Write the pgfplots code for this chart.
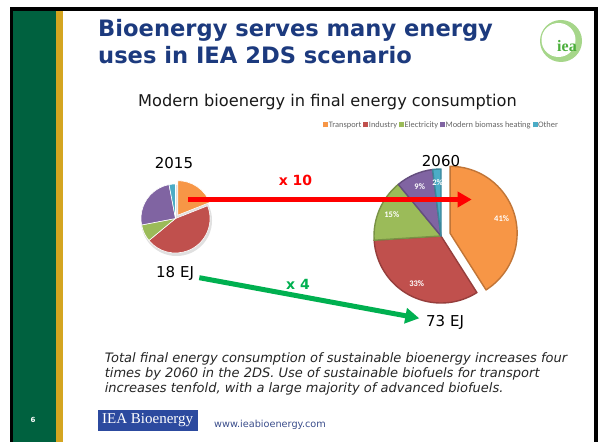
\documentclass[border=0pt]{standalone}
\usepackage{pgfplots}
\pgfplotsset{compat=1.18}
\usepackage{pgfplotstable}
\usepackage{fontspec}
\setmainfont{DejaVu Sans}
\newfontfamily\calibri{Carlito}
\newfontfamily\timesf{Liberation Serif}
\usetikzlibrary{arrows.meta}

\definecolor{cTransport}{HTML}{F79646}
\definecolor{cIndustry}{HTML}{C0504D}
\definecolor{cElectricity}{HTML}{9BBB59}
\definecolor{cHeating}{HTML}{8064A2}
\definecolor{cOther}{HTML}{4BACC6}
\definecolor{bargreen}{HTML}{00613F}
\definecolor{bargold}{HTML}{D4A520}
\definecolor{titleblue}{HTML}{1C3A7E}
\definecolor{ieablue}{HTML}{2C4A9F}
\definecolor{urlblue}{HTML}{3B4E8C}
\definecolor{logoring}{HTML}{A6D68A}
\definecolor{logotext}{HTML}{4CAF3C}
\definecolor{arrowgreen}{HTML}{00B050}

% shares in %, clockwise from 12 o'clock; explode in px
\pgfplotstableread{
share col          explode
19    cTransport   4
45    cIndustry    0
8     cElectricity 0
25    cHeating     0
3     cOther       0
}\pieA
\pgfplotstableread{
share col          explode
41    cTransport   9.5
33    cIndustry    0
15    cElectricity 0
9     cHeating     0
2     cOther       0
}\pieB

\newcommand\legsq[1]{\textcolor{#1}{\rule{5bp}{5bp}}\hspace{0.6bp}}

% #1 table, #2 cx, #3 cy, #4 radius, #5 border style, #6 labels (1/0)
\newcommand{\drawpie}[6]{%
  \pgfplotstablegetrowsof{#1}%
  \pgfmathtruncatemacro\lastrow{\pgfplotsretval-1}%
  \xdef\startang{90}%
  \foreach \i in {0,...,\lastrow}{%
    \pgfplotstablegetelem{\i}{share}\of{#1}\let\sh\pgfplotsretval
    \pgfplotstablegetelem{\i}{col}\of{#1}\let\cc\pgfplotsretval
    \pgfplotstablegetelem{\i}{explode}\of{#1}\let\ex\pgfplotsretval
    \pgfmathsetmacro\endang{\startang-3.6*\sh}%
    \pgfmathsetmacro\midang{(\startang+\endang)/2}%
    \pgfmathsetlengthmacro\exlen{\ex*1bp}%
    \pgfmathsetlengthmacro\rlen{#4*1bp}%
    \pgfmathsetlengthmacro\lablen{0.8*#4*1bp}%
    \fill[\cc, #5] (axis cs:#2,#3) ++(\midang:\exlen) coordinate (pc)
      -- ++(\startang:\rlen) arc[start angle=\startang, end angle=\endang, radius=\rlen] -- cycle;
    \ifnum#6=1
      \path (pc) ++(\midang:\lablen) node[text=white, inner sep=0,
        font=\calibri\bfseries\fontsize{8.5bp}{9bp}\selectfont] {\sh\%};
    \fi
    \xdef\startang{\endang}%
  }%
}

\begin{document}
\begin{tikzpicture}
\begin{axis}[
  x=1bp, y=1bp, y dir=reverse,
  xmin=0, xmax=601, ymin=0, ymax=442,
  hide axis, clip=false,
]
% slide background
\fill[white] (axis cs:0,0) rectangle (axis cs:601,442);
\fill[black] (axis cs:10,7) rectangle (axis cs:598,442);
\fill[white] (axis cs:13,11) rectangle (axis cs:594,442);
\fill[bargreen] (axis cs:13,11) rectangle (axis cs:56,442);
\fill[bargold] (axis cs:56,11) rectangle (axis cs:63,442);

% title
\node[anchor=base west, inner sep=0, text=titleblue, font=\bfseries\fontsize{22.6bp}{26bp}\selectfont]
  at (axis cs:98,37) {Bioenergy serves many energy};
\node[anchor=base west, inner sep=0, text=titleblue, font=\bfseries\fontsize{22.6bp}{26bp}\selectfont]
  at (axis cs:98,63.5) {uses in IEA 2DS scenario};

% iea logo
\fill[logoring] (axis cs:561,41) circle[radius=21bp];
\fill[white] (axis cs:558.5,40) circle[radius=17bp];
\node[text=logotext, inner sep=0, font=\timesf\bfseries\fontsize{16bp}{17bp}\selectfont]
  at (axis cs:567,46) {iea};

% chart title and legend
\node[anchor=base, inner sep=0, text=black!90, font=\fontsize{16.2bp}{18bp}\selectfont]
  at (axis cs:327.5,106.7) {Modern bioenergy in final energy consumption};
\node[anchor=base west, inner sep=0, text=black!60, font=\calibri\fontsize{8.4bp}{9bp}\selectfont]
  at (axis cs:323,127.5) {\legsq{cTransport}Transport \legsq{cIndustry}Industry
  \legsq{cElectricity}Electricity \legsq{cHeating}Modern biomass heating \legsq{cOther}Other};

% pies
\pgfplotsextra{
  \fill[black!12] (axis cs:176.5,220.5) circle[radius=35.5bp];
  \drawpie{\pieA}{175.5}{218.5}{34.5}{draw=white, line width=0.6bp}{0}
  \drawpie{\pieB}{441}{236}{67}{draw=\cc!78!black, line width=1.4bp, line join=round}{1}
}

% year and total labels
\node[anchor=base, inner sep=0, font=\fontsize{15bp}{16bp}\selectfont] at (axis cs:174,168.3) {2015};
\node[anchor=base, inner sep=0, font=\fontsize{15bp}{16bp}\selectfont] at (axis cs:441,166.7) {2060};
\node[anchor=base west, inner sep=0, font=\fontsize{15bp}{16bp}\selectfont] at (axis cs:156,277.7) {18 EJ};
\node[anchor=base west, inner sep=0, font=\fontsize{15bp}{16bp}\selectfont] at (axis cs:426,326) {73 EJ};

% growth arrows
\addplot[red, line width=5bp, -{Triangle[length=14bp, width=15bp]}]
  coordinates {(188,199.5) (471.7,199.5)};
\addplot[arrowgreen, line width=5bp, -{Triangle[length=14bp, width=15bp]}]
  coordinates {(199.3,277.7) (419.3,318.3)};
\node[anchor=base, inner sep=0, text=red, font=\bfseries\fontsize{14bp}{15bp}\selectfont]
  at (axis cs:295.5,185.5) {x 10};
\node[anchor=base, inner sep=0, text=arrowgreen, font=\bfseries\fontsize{14bp}{15bp}\selectfont]
  at (axis cs:298,290) {x 4};

% note text
\node[anchor=base west, inner sep=0, text=black!85, font=\itshape\fontsize{13bp}{15bp}\selectfont]
  at (axis cs:104.6,362.5) {Total final energy consumption of sustainable bioenergy increases four};
\node[anchor=base west, inner sep=0, text=black!85, font=\itshape\fontsize{13bp}{15bp}\selectfont]
  at (axis cs:104.6,377.5) {times by 2060 in the 2DS. Use of sustainable biofuels for transport};
\node[anchor=base west, inner sep=0, text=black!85, font=\itshape\fontsize{13bp}{15bp}\selectfont]
  at (axis cs:104.6,392.5) {increases tenfold, with a large majority of advanced biofuels.};

% footer
\node[text=white, inner sep=0, font=\bfseries\fontsize{7bp}{8bp}\selectfont] at (axis cs:33,419.5) {6};
\fill[ieablue] (axis cs:97.7,410) rectangle (axis cs:197.7,431);
\node[text=white, inner sep=0, font=\timesf\fontsize{15bp}{16bp}\selectfont] at (axis cs:147.7,420) {IEA Bioenergy};
\node[anchor=west, inner sep=0, text=urlblue, font=\fontsize{9.7bp}{11bp}\selectfont]
  at (axis cs:214,425) {www.ieabioenergy.com};
\end{axis}
\end{tikzpicture}
\end{document}
